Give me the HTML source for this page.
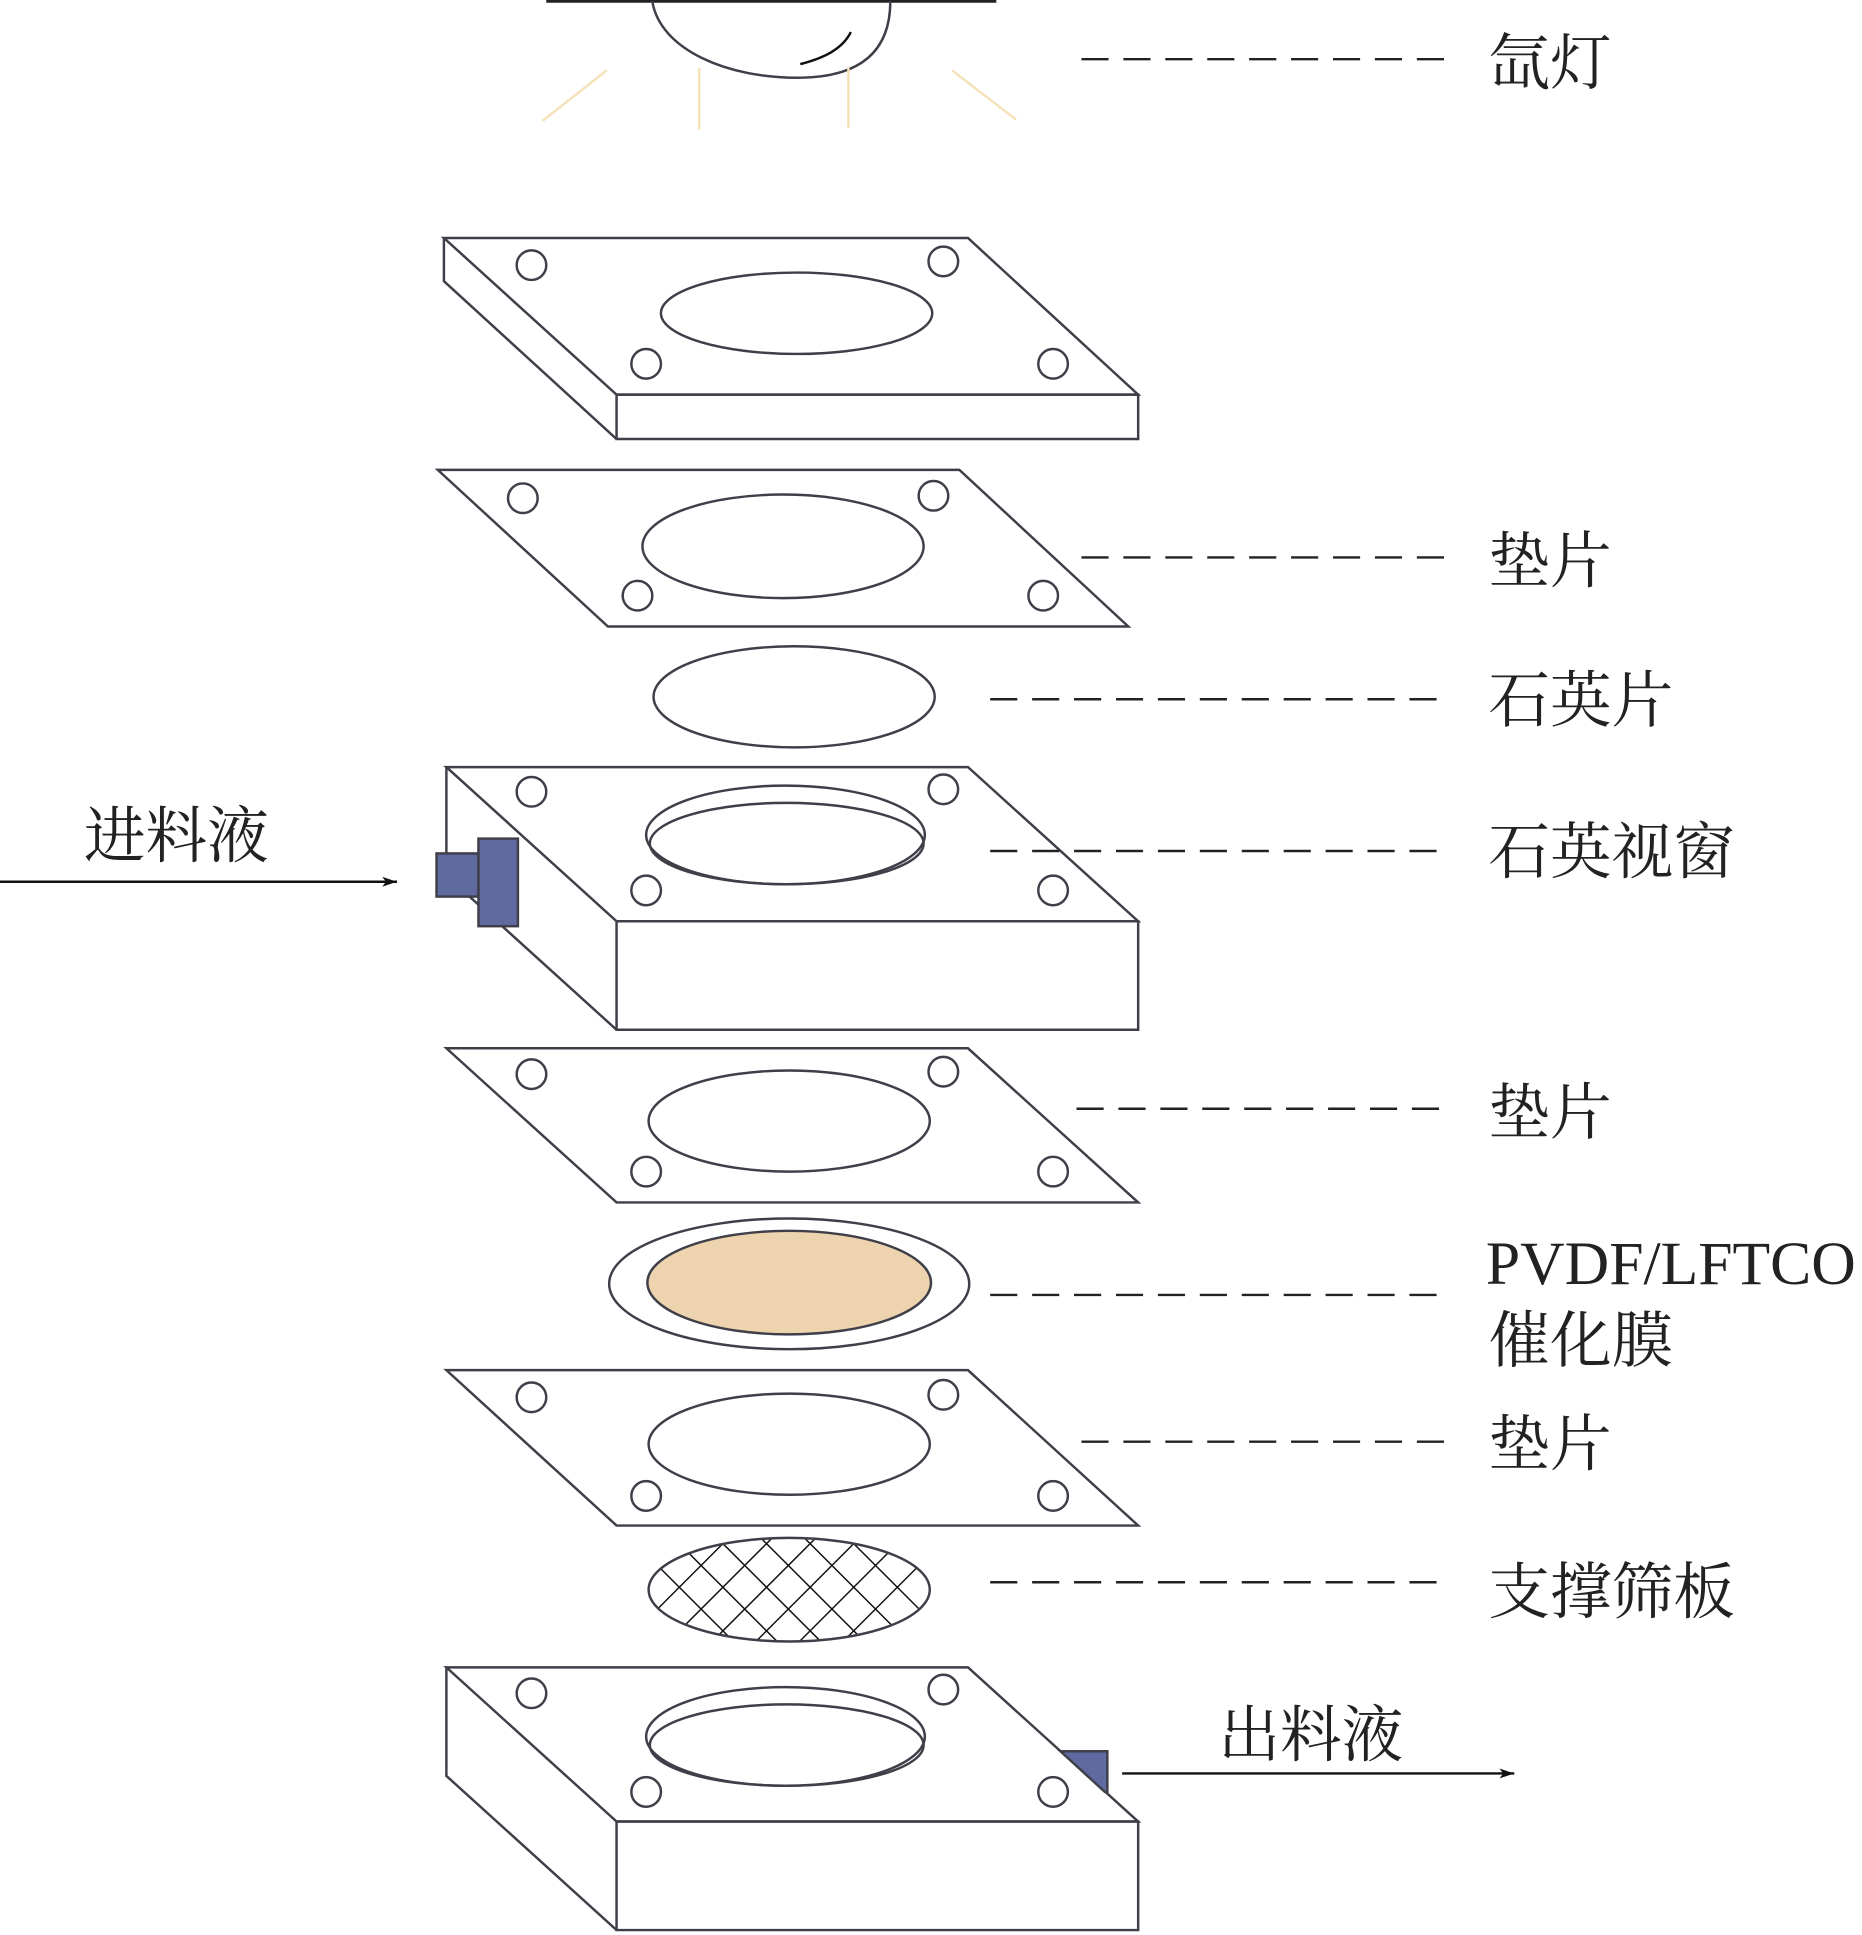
<!DOCTYPE html>
<html><head><meta charset="utf-8"><style>
html,body{margin:0;padding:0;background:#fff;}
svg{display:block;}
text{font-family:"Liberation Serif","Noto Serif CJK SC","Noto Sans CJK SC",serif;font-size:50px;fill:#222;}
</style></head><body>
<svg width="1862" height="1935" viewBox="0 0 1510 1569" preserveAspectRatio="none" xmlns="http://www.w3.org/2000/svg">
<defs>
<pattern id="grid" patternUnits="userSpaceOnUse" width="25" height="25" patternTransform="rotate(45 640 1289)">
<path d="M0,0 H25 M0,0 V25" stroke="#111" stroke-width="2.4" fill="none"/>
</pattern>
<marker id="ar" markerWidth="12" markerHeight="8" refX="12" refY="4" orient="auto" markerUnits="userSpaceOnUse"><path d="M0,0 L12,4 L0,8 L3,4 Z" fill="#111"/></marker>
</defs>
<g fill="none" stroke="#3f3f4a" stroke-width="2">
<!-- lamp -->
<line x1="443" y1="1" x2="808" y2="1" stroke="#222" stroke-width="2.5"/>
<path d="M529,1 C535,40 590,64 650,63 C705,62 722,35 722,1"/>
<path d="M649,52 C668,47 683,40 690,26" stroke="#111"/>
<g stroke="#f5e2b8" stroke-width="2">
<line x1="440" y1="98" x2="492" y2="57"/><line x1="567" y1="55" x2="567" y2="105"/>
<line x1="688" y1="54" x2="688" y2="104"/><line x1="772" y1="57" x2="824" y2="97"/></g>
<!-- top block -->
<polygon points="360,193 785,193 923,320 500,320"/>
<polygon points="500,320 923,320 923,356 500,356"/>
<polyline points="360,193 360,228 500,356"/>
<ellipse cx="646" cy="254" rx="110" ry="33"/>
<circle cx="431" cy="215" r="12"/><circle cx="765" cy="212" r="12"/><circle cx="524" cy="295" r="12"/><circle cx="854" cy="295" r="12"/>
<!-- gasket 1 -->
<polygon points="355,381 778,381 915,508 493,508"/>
<ellipse cx="635" cy="443" rx="114" ry="42"/>
<circle cx="424" cy="404" r="12"/><circle cx="757" cy="402" r="12"/><circle cx="517" cy="483" r="12"/><circle cx="846" cy="483" r="12"/>
<!-- quartz -->
<ellipse cx="644" cy="565" rx="114" ry="41"/>
<!-- window block -->
<polygon points="362,622 785,622 923,747 500,747"/>
<polygon points="500,747 923,747 923,835 500,835"/>
<polyline points="362,622 362,710 500,835"/>
<ellipse cx="637" cy="677" rx="113" ry="40"/>
<ellipse cx="638" cy="684" rx="111" ry="33"/>
<circle cx="431" cy="642" r="12"/><circle cx="765" cy="640" r="12"/><circle cx="524" cy="722" r="12"/><circle cx="854" cy="722" r="12"/>
<rect x="354" y="692" width="34" height="35" fill="#5f6aa0"/>
<rect x="388" y="680" width="32" height="71" fill="#5f6aa0"/>
<!-- gasket 2 -->
<polygon points="362,850 785,850 923,975 500,975"/>
<ellipse cx="640" cy="909" rx="114" ry="41"/>
<circle cx="431" cy="871" r="12"/><circle cx="765" cy="869" r="12"/><circle cx="524" cy="950" r="12"/><circle cx="854" cy="950" r="12"/>
<!-- membrane -->
<ellipse cx="640" cy="1041" rx="146" ry="53"/>
<ellipse cx="640" cy="1040" rx="115" ry="42" fill="#eed4ae"/>
<!-- gasket 3 -->
<polygon points="362,1111 785,1111 923,1237 500,1237"/>
<ellipse cx="640" cy="1171" rx="114" ry="41"/>
<circle cx="431" cy="1133" r="12"/><circle cx="765" cy="1131" r="12"/><circle cx="524" cy="1213" r="12"/><circle cx="854" cy="1213" r="12"/>
<!-- mesh -->
<ellipse cx="640" cy="1289" rx="114" ry="42" fill="url(#grid)" stroke="#3f3f4a"/>
<!-- bottom block -->
<polygon points="362,1352 785,1352 923,1477 500,1477"/>
<polygon points="500,1477 923,1477 923,1565 500,1565"/>
<polyline points="362,1352 362,1440 500,1565"/>
<ellipse cx="637" cy="1408" rx="113" ry="40"/>
<ellipse cx="638" cy="1415" rx="111" ry="33"/>
<circle cx="431" cy="1373" r="12"/><circle cx="765" cy="1370" r="12"/><circle cx="524" cy="1453" r="12"/><circle cx="854" cy="1453" r="12"/>
<polygon points="860,1420 898,1420 898,1453 896,1453" fill="#5f6aa0"/>
</g>
<!-- dashed leaders -->
<g stroke="#222" stroke-width="2" stroke-dasharray="22,12">
<line x1="877" y1="48" x2="1172" y2="48"/>
<line x1="877" y1="452" x2="1172" y2="452"/>
<line x1="803" y1="567" x2="1172" y2="567"/>
<line x1="803" y1="690" x2="1172" y2="690"/>
<line x1="873" y1="899" x2="1172" y2="899"/>
<line x1="803" y1="1050" x2="1172" y2="1050"/>
<line x1="877" y1="1169" x2="1172" y2="1169"/>
<line x1="803" y1="1283" x2="1172" y2="1283"/>
</g>
<!-- arrows -->
<line x1="0" y1="715" x2="322" y2="715" stroke="#111" stroke-width="2" marker-end="url(#ar)"/>
<line x1="910" y1="1438" x2="1228" y2="1438" stroke="#111" stroke-width="2" marker-end="url(#ar)"/>
<!-- labels -->
<text x="1207" y="68">氙灯</text>
<text x="1207" y="472">垫片</text>
<text x="1207" y="585">石英片</text>
<text x="1207" y="708">石英视窗</text>
<text x="1207" y="919">垫片</text>
<text x="1205" y="1041">PVDF/LFTCO</text>
<text x="1207" y="1104">催化膜</text>
<text x="1207" y="1188">垫片</text>
<text x="1207" y="1308">支撑筛板</text>
<text x="68" y="695">进料液</text>
<text x="988" y="1424">出料液</text>
</svg>
</body></html>
